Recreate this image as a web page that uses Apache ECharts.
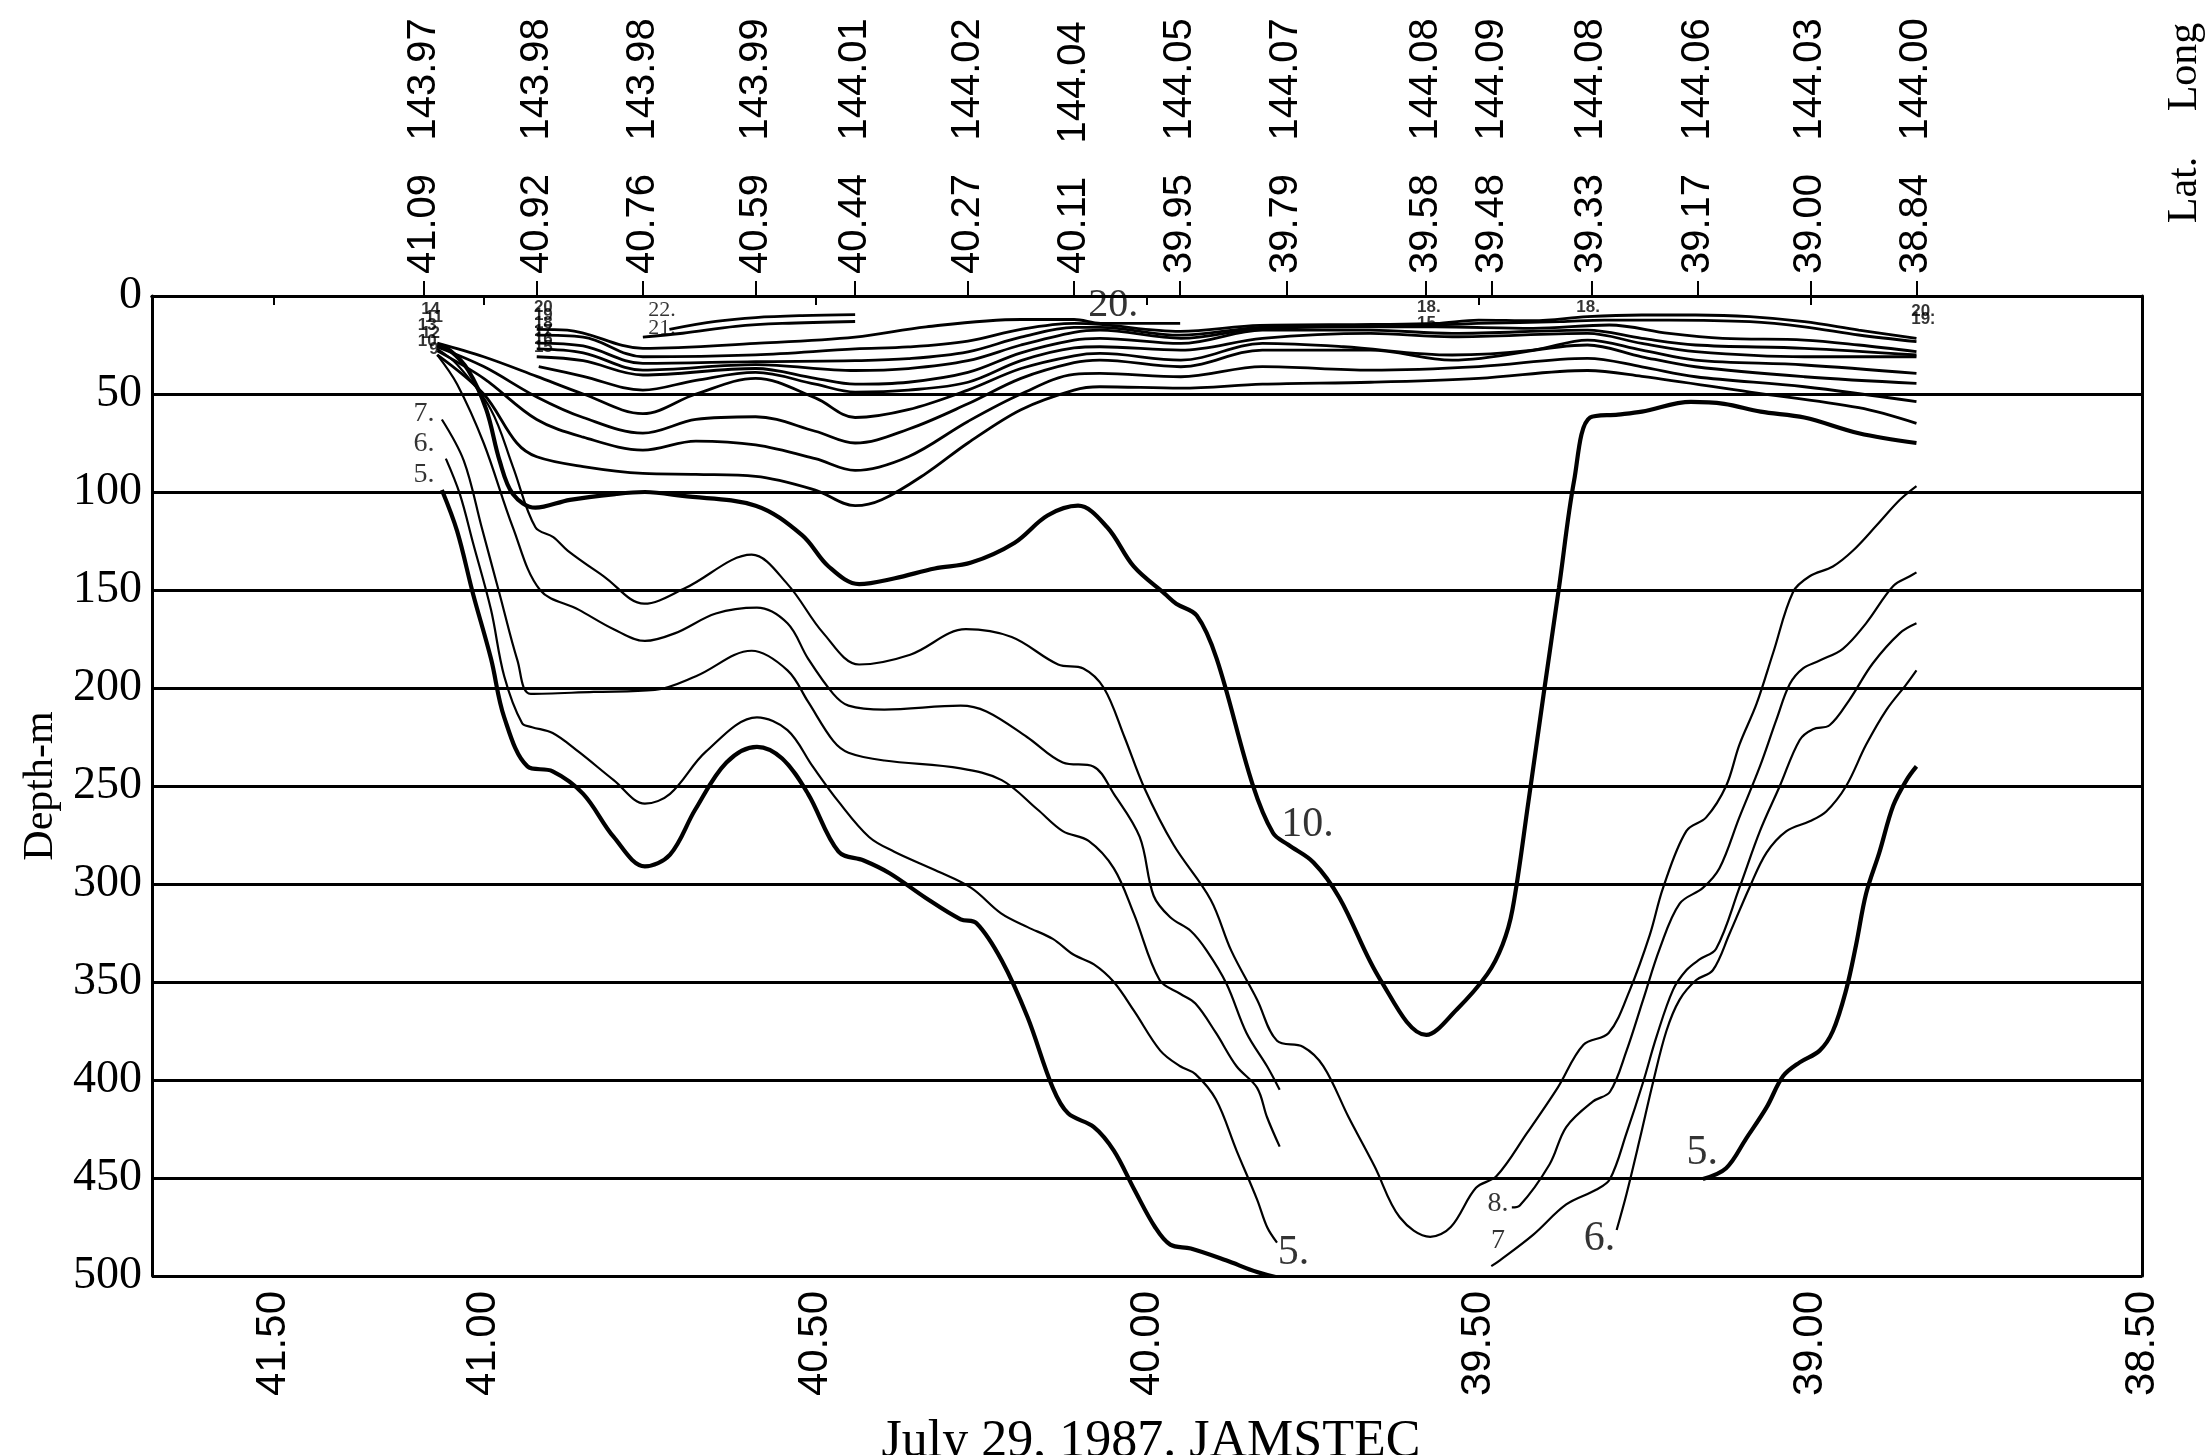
<!DOCTYPE html>
<html><head><meta charset="utf-8">
<script src="https://cdn.jsdelivr.net/npm/echarts@6/dist/echarts.min.js"></script>
<style>html,body{margin:0;padding:0;background:#fff}#c{width:2210px;height:1455px}</style>
</head><body><div id="c"></div>
<script>
// ---- station positions (top axis) ----
const stationLat = [41.09, 40.92, 40.76, 40.59, 40.44, 40.27, 40.11, 39.95, 39.79, 39.58, 39.48, 39.33, 39.17, 39.00, 38.84];
const stationLong = ['143.97','143.98','143.98','143.99','144.01','144.02','144.04','144.05','144.07','144.08','144.09','144.08','144.06','144.03','144.00'];
// ---- bottom axis tick labels (as printed) ----
const latTickPos = [41.317, 41.0, 40.5, 40.0, 39.5, 39.0, 38.5];
const latTickText = ['41.50','41.00','40.50','40.00','39.50','39.00','38.50'];
const depthTicks = [0,50,100,150,200,250,300,350,400,450,500];

// ---- isotherms: [latitude, depth m] ----
const iso22 = [[40.72,17],[40.65,13],[40.59,11],[40.52,10],[40.44,9.5]];
const iso21 = [[40.76,21],[40.70,19],[40.62,15.5],[40.55,14],[40.44,13]];
const iso20 = [[40.92,17],[40.874,17.4],[40.76,26.7],[40.59,24.2],[40.44,21],[40.333,15.7],[40.19,12],[40.11,12],[40.07,14],[39.95,14]];
const iso19 = [[40.92,20],[40.85,21],[40.76,31],[40.59,30],[40.44,27],[40.36,26],[40.27,23],[40.19,17],[40.11,14],[40.071,14.5],[39.95,18],[39.83,15],[39.66,14.5],[39.565,14],[39.5,12.3],[39.418,12.6],[39.336,10.5],[39.254,9.7],[39.173,9.7],[39.091,10.5],[39.009,13.1],[38.927,17.4],[38.84,21.6]];
const iso18 = [[40.92,24],[40.85,25.5],[40.76,34.4],[40.59,33.5],[40.44,33],[40.36,32],[40.27,28.5],[40.19,21],[40.11,16],[40.071,16],[39.95,20],[39.83,16],[39.66,15],[39.565,14.8],[39.5,14],[39.377,13.1],[39.31,12.3],[39.213,12.3],[39.091,13.1],[39.009,15.7],[38.927,19.9],[38.84,23.3]];
const iso17 = [[40.92,27],[40.85,29],[40.76,37.8],[40.59,35],[40.44,38],[40.36,37],[40.27,33],[40.19,25],[40.11,18.5],[40.071,17.4],[39.949,21.6],[39.826,16.5],[39.663,15.7],[39.565,15.7],[39.418,16.5],[39.303,14.8],[39.213,19.1],[39.132,21.6],[39.009,22.5],[38.927,25],[38.84,28.4]];
const iso16 = [[40.92,31],[40.85,33],[40.76,40.3],[40.59,37],[40.50,42],[40.44,45],[40.36,44],[40.27,39],[40.19,29],[40.11,22.5],[40.071,21.6],[39.949,24.2],[39.826,17.4],[39.663,17.4],[39.54,19.1],[39.336,17.4],[39.254,21.6],[39.173,25],[39.009,26.7],[38.84,30.1]];
const iso15 = [[40.917,36],[40.85,41],[40.76,48],[40.68,43],[40.59,39],[40.50,45],[40.44,49],[40.36,48],[40.27,44],[40.19,33],[40.11,26.5],[40.071,25.9],[39.949,27.6],[39.826,21.6],[39.663,19.1],[39.54,20.8],[39.336,19.1],[39.254,24.2],[39.173,28.4],[39.009,31],[38.84,31]];
const iso14 = [[41.07,24],[41.0,31],[40.92,41],[40.85,50],[40.76,60],[40.68,50],[40.59,42],[40.50,52],[40.44,62],[40.36,58],[40.27,48],[40.19,37],[40.11,30.5],[40.071,29.3],[39.949,32.7],[39.826,24.2],[39.704,25.9],[39.54,30.1],[39.418,27.6],[39.336,22.5],[39.254,27.6],[39.173,32.7],[39.009,35.2],[38.84,39.5]];
const iso13 = [[41.07,26],[41.0,36],[40.92,51.5],[40.85,62],[40.76,70],[40.68,63],[40.59,61.6],[40.50,69],[40.44,75],[40.36,68],[40.27,55],[40.19,42],[40.11,34],[40.071,32.7],[39.949,36.1],[39.826,27.6],[39.663,27.6],[39.54,32.7],[39.336,25],[39.254,31],[39.173,36.1],[39.009,41.2],[38.84,44.6]];
const iso12 = [[41.07,28],[41.0,42],[40.92,63],[40.85,72],[40.76,78.6],[40.68,74],[40.59,76],[40.50,83],[40.44,89],[40.36,82],[40.27,64],[40.19,50],[40.11,40],[40.071,39.5],[39.949,41.2],[39.826,36],[39.663,37.8],[39.5,36],[39.336,31.8],[39.254,36.1],[39.173,41.2],[39.009,46.3],[38.84,53.9]];
const iso11 = [[41.07,30],[41.0,50],[40.95,75],[40.92,82],[40.85,87],[40.76,90.5],[40.68,91],[40.59,92],[40.50,99],[40.44,107],[40.40,104],[40.333,90.5],[40.27,75],[40.19,58],[40.11,48],[40.071,46.3],[39.949,47],[39.826,45],[39.663,44],[39.5,42],[39.336,38],[39.254,41],[39.091,49],[38.927,57],[38.84,65]];
const iso10 = [[41.07,25],[41.05,28],[41.023,38],[40.996,58],[40.976,84],[40.956,101],[40.922,108],[40.87,104],[40.80,101],[40.757,100],[40.70,102],[40.59,107],[40.52,122],[40.48,138],[40.434,147],[40.38,144],[40.32,139],[40.265,136],[40.20,126],[40.15,112],[40.104,107],[40.06,118],[40.02,138],[39.973,152],[39.956,157],[39.925,163],[39.895,185],[39.841,249],[39.81,274],[39.787,280],[39.749,289],[39.71,307],[39.648,349],[39.579,377],[39.533,364],[39.487,346],[39.464,331],[39.449,313],[39.425,258],[39.402,203],[39.379,149],[39.356,94],[39.332,62],[39.29,60.5],[39.254,59],[39.18,54],[39.13,55],[39.075,59],[39.009,62],[38.927,70],[38.84,75]];
const iso9 = [[41.07,27],[41.04,35],[40.989,58],[40.956,87],[40.922,118],[40.895,123],[40.873,130],[40.819,143],[40.758,157],[40.696,149],[40.596,132],[40.542,147],[40.488,172],[40.434,188],[40.357,183],[40.273,170],[40.204,174],[40.134,188],[40.096,190],[40.065,200],[40.034,225],[40.004,251],[39.96,280],[39.904,308],[39.873,334],[39.834,359],[39.804,380],[39.765,383],[39.734,393],[39.696,419],[39.657,444],[39.619,470],[39.573,480],[39.542,475],[39.504,455],[39.473,449],[39.427,427],[39.381,404],[39.342,382],[39.304,376],[39.272,354],[39.242,326],[39.222,302],[39.187,273],[39.157,266],[39.127,250],[39.107,229],[39.081,208],[39.056,182],[39.026,151],[39.001,143],[38.966,138],[38.936,130],[38.900,117],[38.865,104],[38.84,97]];
const iso8 = [[41.07,30],[41.04,45],[41.0,75],[40.956,118],[40.915,150],[40.857,160],[40.804,170],[40.757,176],[40.711,172],[40.650,162],[40.588,159],[40.542,167],[40.511,185],[40.473,203],[40.450,209],[40.396,211],[40.281,209],[40.242,212],[40.181,225],[40.127,238],[40.081,240],[40.050,254],[40.011,276],[39.99,306],[39.965,317],[39.934,324],[39.91,334],[39.88,351],[39.85,376],[39.819,393],[39.80,405]];
const iso7 = [[41.063,63],[41.03,84],[41.003,118],[40.976,152],[40.949,186],[40.929,203],[40.834,202],[40.742,201],[40.680,194],[40.596,181],[40.542,191],[40.511,207],[40.473,227],[40.450,233],[40.396,237],[40.281,241],[40.219,247],[40.165,262],[40.127,273],[40.088,278],[40.05,292],[40.02,315],[39.981,349],[39.950,356],[39.927,361],[39.896,376],[39.865,393],[39.834,404],[39.819,419],[39.80,434]];
const iso6 = [[41.057,83],[41.036,101],[41.016,126],[40.989,160],[40.969,194],[40.942,218],[40.927,220],[40.896,223],[40.857,232.5],[40.804,247],[40.757,259],[40.719,254],[40.665,232.5],[40.588,215],[40.542,221.5],[40.504,240],[40.465,258],[40.419,276],[40.381,283.5],[40.319,293],[40.265,302],[40.22,315],[40.18,322],[40.142,328],[40.111,336],[40.08,341],[40.05,350],[40.019,365],[39.98,385],[39.95,393],[39.927,397],[39.896,410],[39.865,436],[39.834,461],[39.819,475],[39.804,483]];
const iso5 = [[41.063,99],[41.04,120],[41.016,152],[40.989,185],[40.969,215],[40.934,240],[40.896,242.5],[40.850,254],[40.804,276],[40.757,291],[40.719,285],[40.681,262],[40.634,238],[40.588,230],[40.550,236],[40.511,254],[40.465,283.5],[40.427,288],[40.388,294.5],[40.334,307],[40.281,318],[40.257,320],[40.219,339],[40.18,368],[40.142,404],[40.119,417],[40.08,424],[40.05,436],[40.019,456],[39.988,475],[39.965,484],[39.934,486],[39.881,492],[39.834,498],[39.80,501],[39.76,503]];
const iso8R = [[39.450,465],[39.438,464],[39.393,443],[39.368,424],[39.328,411],[39.302,406],[39.277,385],[39.252,359],[39.227,333],[39.197,310],[39.162,302],[39.137,292],[39.107,266],[39.076,240],[39.051,216],[39.031,198],[39.011,190],[38.986,186],[38.951,180],[38.916,167],[38.875,148],[38.850,143],[38.84,141]];
const iso7R = [[39.481,495],[39.468,492],[39.418,479],[39.368,463.5],[39.323,456],[39.302,450.5],[39.277,427],[39.252,401],[39.232,378],[39.207,354],[39.187,344],[39.167,338.5],[39.142,333],[39.107,302],[39.076,273],[39.046,250],[39.016,226.5],[38.996,221],[38.971,219],[38.941,206],[38.906,187.5],[38.865,172],[38.84,167]];
const iso6R = [[39.292,476.5],[39.277,458],[39.257,430],[39.237,401],[39.217,375],[39.197,359],[39.172,349],[39.147,344],[39.122,325.5],[39.092,302],[39.066,284],[39.036,273],[39.001,268],[38.976,263],[38.946,250],[38.916,229],[38.885,211],[38.855,198],[38.84,191]];
const iso5R = [[39.162,450.5],[39.127,445],[39.097,430],[39.066,414],[39.041,398],[39.016,391],[38.986,385],[38.966,375],[38.946,354],[38.931,331],[38.916,305],[38.896,284],[38.875,260],[38.855,247],[38.84,240]];

// ---- contour labels ----
const labelText  = ['10.','5.','6.','5.','8.','7','7.','6.','5.','20.','22.','21.'];
const labelLat   = [39.758,39.779,39.318,39.163,39.471,39.471,41.09,41.09,41.09,40.051,40.731,40.731];
const labelDepth = [270,488,481,437,463,482,60,75.5,91,5,7.5,16.5];
const labelSize  = [42,42,42,42,28,28,28,28,28,40,22,22];
const smallText  = ['14','11','13','12','10','9','20','19','18','17','16','15','18.','15.','18.','20.','19.'];
const smallLat   = [41.08,41.075,41.085,41.08,41.085,41.075,40.91,40.91,40.91,40.91,40.91,40.91,39.575,39.575,39.335,38.83,38.83];
const smallDepth = [7,11,15,19,23,27,6,10,14,18,22,26,6,14,6,8,12];

const thick = {5:4.2, 10:4.2};
const lines = [
  ['22',iso22],['21',iso21],['20',iso20],['19',iso19],['18',iso18],['17',iso17],['16',iso16],['15',iso15],
  ['14',iso14],['13',iso13],['12',iso12],['11',iso11],['10',iso10],['9',iso9],['8',iso8],['7',iso7],['6',iso6],['5',iso5],
  ['8',iso8R],['7',iso7R],['6',iso6R],['5',iso5R]
];
const series = lines.map(([t, d]) => ({
  type:'line', name:t, data:d, smooth:0.35, symbol:'none', clip:true, silent:true,
  xAxisIndex:0, yAxisIndex:0,
  lineStyle:{color:'#000', width: thick[t] || (Number(t) >= 11 ? 2.8 : 2.2)}
}));
series.push({
  type:'scatter', symbolSize:0, silent:true,
  data: labelText.map((t,i)=>({value:[labelLat[i],labelDepth[i]],
    label:{show:true,position:'inside',formatter:t,fontSize:labelSize[i],fontFamily:'Liberation Serif',color:'#000'}}))
});
series.push({
  type:'scatter', symbolSize:0, silent:true,
  data: smallText.map((t,i)=>({value:[smallLat[i],smallDepth[i]],
    label:{show:true,position:'inside',formatter:t,fontSize:17,fontWeight:'bold',fontFamily:'Liberation Sans',color:'#000'}}))
});

const numFont = 'Liberation Sans, Arial, sans-serif';
const chart = echarts.init(document.getElementById('c'));
chart.setOption({
  animation:false,
  backgroundColor:'#fff',
  grid:{left:152, right:68, top:296, bottom:179, containLabel:false, outerBoundsMode:'none'},
  xAxis:[
    {type:'value', position:'bottom', min:38.5, max:41.5, inverse:true,
     axisLine:{show:true, lineStyle:{color:'#000', width:3}},
     axisTick:{show:true, customValues:latTickPos, length:9, lineStyle:{color:'#000', width:2}},
     axisLabel:{show:true, customValues:latTickPos, rotate:90, margin:15, color:'#000', fontSize:42, fontFamily:numFont,
       formatter:(v)=>{let k=0,b=1e9; latTickPos.forEach((p,i)=>{const d=Math.abs(p-v); if(d<b){b=d;k=i;}}); return latTickText[k];}},
     splitLine:{show:false}},
    {type:'value', position:'top', min:38.5, max:41.5, inverse:true,
     axisLine:{show:true, lineStyle:{color:'#000', width:3}},
     axisTick:{show:true, customValues:stationLat, length:15, lineStyle:{color:'#000', width:2}},
     axisLabel:{show:true, customValues:stationLat, rotate:90, margin:22, color:'#000', fontSize:40, fontFamily:numFont,
       formatter:(v)=>{let k=0,b=1e9; stationLat.forEach((p,i)=>{const d=Math.abs(p-v); if(d<b){b=d;k=i;}}); return stationLat[k].toFixed(2)+'   '+stationLong[k];}},
     splitLine:{show:false}}
  ],
  yAxis:[
    {type:'value', position:'left', min:0, max:500, interval:50, inverse:true,
     name:'Depth-m', nameLocation:'middle', nameRotate:90, nameGap:88,
     nameTextStyle:{color:'#000', fontSize:42, fontFamily:'Liberation Serif'},
     axisLine:{show:true, lineStyle:{color:'#000', width:3}},
     axisTick:{show:false},
     axisLabel:{color:'#000', fontSize:46, fontFamily:'Liberation Serif', margin:10},
     splitLine:{show:true, lineStyle:{color:'#000', width:3}}},
    {type:'value', position:'right', min:0, max:500, interval:50, inverse:true,
     axisLine:{show:true, lineStyle:{color:'#000', width:3}},
     axisTick:{show:false}, axisLabel:{show:false}, splitLine:{show:false}}
  ],
  graphic:[
    {type:'text', x:2185, y:190, rotation:Math.PI/2, style:{text:'Lat.', font:'42px "Liberation Serif"', fill:'#000', textAlign:'center', textVerticalAlign:'middle'}},
    {type:'text', x:2185, y:67, rotation:Math.PI/2, style:{text:'Long', font:'42px "Liberation Serif"', fill:'#000', textAlign:'center', textVerticalAlign:'middle'}},
    {type:'text', x:1151, y:1442, style:{text:'July 29, 1987. JAMSTEC', font:'52px "Liberation Serif"', fill:'#000', textAlign:'center', textVerticalAlign:'middle'}}
  ],
  series: series
});
</script></body></html>
